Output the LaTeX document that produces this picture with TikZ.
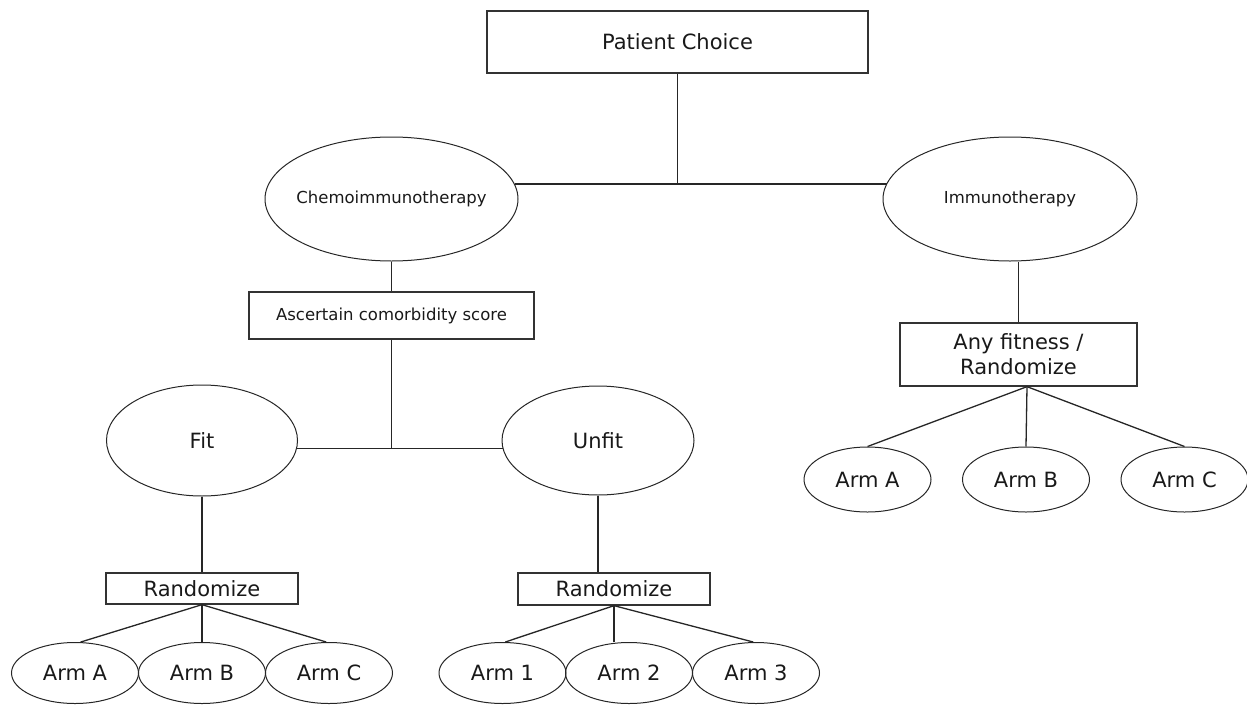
\documentclass[tikz,border=0pt]{standalone}
\usepackage{fontspec}
\setmainfont{DejaVu Sans}
\usetikzlibrary{shapes.geometric}

\begin{document}
\begin{tikzpicture}
  [
    x=1pt,y=-1pt,
    every node/.style={text=black!90},
    big/.style={font=\fontsize{21}{25}\selectfont},
    small/.style={font=\fontsize{16.5}{20}\selectfont},
    box/.style={rectangle,draw=black!80,line width=1.3pt,inner sep=0pt},
    oval/.style={ellipse,draw=black!85,line width=1pt,inner sep=0pt},
    arm/.style={oval,big,minimum width=127pt,minimum height=61pt},
    link/.style={draw=black!85,line width=1.3pt}
  ]
  \useasboundingbox (0,0) rectangle (1247,704);
  % top level
  \node[box,big,minimum width=381pt,minimum height=62pt] (choice) at (677.5,42) {Patient Choice};
  \node[oval,small,inner xsep=-6pt,minimum width=253pt,minimum height=124pt] (chemo) at (391.5,199) {Chemoimmunotherapy};
  \node[oval,small,minimum width=254pt,minimum height=124pt] (immuno) at (1010,199) {Immunotherapy};
  \draw[link] (chemo.7.5) -- (immuno.172.5 |- chemo.7.5);
  \draw[link] (choice.south) -- (choice.south |- chemo.7.5);
  % chemoimmunotherapy branch
  \node[box,small,minimum width=285pt,minimum height=47pt] (score) at (391.5,315.5) {Ascertain comorbidity score};
  \node[oval,big,minimum width=191pt,minimum height=111pt] (fit) at (202,440.5) {Fit};
  \node[oval,big,minimum width=192pt,minimum height=109pt] (unfit) at (598,440.5) {Unfit};
  \draw[link] (chemo.south) -- (score.north);
  \draw[link] (fit.-5) -- (unfit.185 |- fit.-5);
  \draw[link] (score.south) -- (score.south |- fit.-5);
  \node[box,big,minimum width=192pt,minimum height=31pt] (fit rand) at (202,588.5) {Randomize};
  \node[box,big,minimum width=192pt,minimum height=32pt] (unfit rand) at (614,589) {Randomize};
  \draw[link] (fit.south) -- (fit rand.north);
  \draw[link] (unfit.south) -- (unfit.south |- unfit rand.north);
  \node[arm] (fit A) at (75,673) {Arm A};
  \node[arm] (fit B) at (202,673) {Arm B};
  \node[arm] (fit C) at (329,673) {Arm C};
  \draw[link] (fit rand.south) -- (fit A.80);
  \draw[link] (fit rand.south) -- (fit B.north);
  \draw[link] (fit rand.south) -- (fit C.95);
  \node[arm] (unfit 1) at (502.5,673) {Arm 1};
  \node[arm] (unfit 2) at (629,673) {Arm 2};
  \node[arm] (unfit 3) at (756,673) {Arm 3};
  \draw[link] (unfit rand.south) -- (unfit 1.85);
  \draw[link] (unfit rand.south) -- (unfit rand.south |- unfit 2.north);
  \draw[link] (unfit rand.south) -- (unfit 3.95);
  % immunotherapy branch
  \node[box,big,align=center,minimum width=237pt,minimum height=63pt] (any) at (1018.5,354.5) {Any fitness /\\Randomize};
  \draw[link] (any.north) -- (any.north |- immuno.south);
  \coordinate (any foot) at ([xshift=8.5pt]any.south);
  \node[arm,minimum height=65pt] (immuno A) at (867.5,479.5) {Arm A};
  \node[arm,minimum height=65pt] (immuno B) at (1026,479.5) {Arm B};
  \node[arm,minimum height=65pt] (immuno C) at (1184.5,479.5) {Arm C};
  \draw[link] (any foot) -- (immuno A.north);
  \draw[link] (any foot) -- (immuno B.north);
  \draw[link] (any foot) -- (immuno C.north);
\end{tikzpicture}
\end{document}
